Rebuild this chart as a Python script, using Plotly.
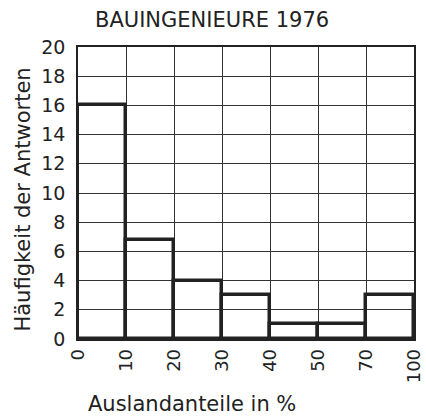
import plotly.graph_objects as go

bin_labels = ["0", "10", "20", "30", "40", "50", "70", "100"]
bin_index = [0, 1, 2, 3, 4, 5, 6]
counts = [16, 6.8, 4, 3, 1, 1, 3]

title_text = "BAUINGENIEURE 1976"
x_title = "Auslandanteile in %"
y_title = "Häufigkeit der Antworten"

FONT = "DejaVu Sans"

fig = go.Figure()
fig.add_trace(go.Bar(
    x=[i + 0.5 for i in bin_index],
    y=counts,
    width=1,
    marker=dict(color="rgba(0,0,0,0)", line=dict(color="#222", width=3.5)),
    showlegend=False,
))

fig.update_layout(
    width=426, height=417,
    margin=dict(l=78, r=12, t=47, b=78),
    paper_bgcolor="white", plot_bgcolor="white",
    font=dict(family=FONT, color="#222", size=17),
    bargap=0,
    xaxis=dict(
        range=[0, 7], tickvals=list(range(len(bin_labels))), ticktext=bin_labels,
        tickangle=-90, showgrid=True, gridcolor="#333", gridwidth=1.2,
        showline=True, linecolor="#222", linewidth=1.5, mirror=True,
        zeroline=False, ticks="", ticklabelstandoff=1, automargin=False,
        tickfont=dict(size=18), ticklabeloverflow="allow",
    ),
    yaxis=dict(
        range=[0, 20], tickvals=list(range(0, 21, 2)),
        showgrid=True, gridcolor="#333", gridwidth=1.2,
        showline=True, linecolor="#222", linewidth=1.5, mirror=True,
        zeroline=False, ticks="", ticklabelstandoff=7, automargin=False,
        tickfont=dict(size=19),
    ),
    annotations=[
        dict(text=title_text, xref="paper", yref="paper", x=0.40, y=1.092,
             xanchor="center", yanchor="middle", showarrow=False,
             font=dict(size=21)),
        dict(text=x_title, xref="paper", yref="paper", x=0.34, y=-0.2226,
             xanchor="center", yanchor="middle", showarrow=False,
             font=dict(size=21)),
        dict(text=y_title, xref="paper", yref="paper", x=-0.165, y=0.476,
             xanchor="center", yanchor="middle", showarrow=False, textangle=-90,
             font=dict(size=21)),
    ],
)

fig.write_html(
    "out.html",
    config={"displayModeBar": False},
    post_script="document.body.style.margin='0px';document.body.style.overflow='hidden';",
)
